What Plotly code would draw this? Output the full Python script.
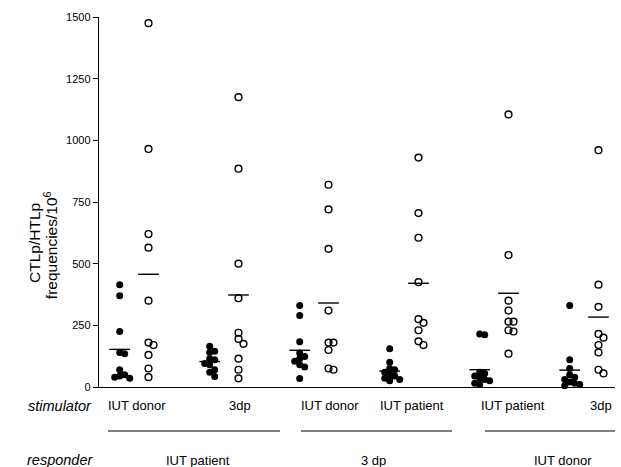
import plotly.graph_objects as go
import numpy as np

# ---------------- data ----------------
y_ticks = [0, 250, 500, 750, 1000, 1250, 1500]
stimulator_labels = ["IUT donor", "3dp", "IUT donor", "IUT patient", "IUT patient", "3dp"]
responder_labels = ["IUT patient", "3 dp", "IUT donor"]

ctlp_g1 = [415, 370, 225, 140, 135, 70, 50, 45, 40, 35]
htlp_g1 = [1475, 965, 620, 565, 350, 180, 170, 130, 75, 40]
ctlp_g2 = [165, 145, 140, 115, 110, 95, 90, 70, 60, 43]
htlp_g2 = [1175, 885, 500, 360, 220, 195, 175, 115, 70, 35]
ctlp_g3 = [330, 290, 183, 138, 124, 115, 104, 90, 81, 34]
htlp_g3 = [820, 720, 560, 310, 180, 180, 150, 75, 70]
ctlp_g4 = [155, 100, 75, 70, 60, 50, 45, 35, 30, 25]
htlp_g4 = [930, 705, 605, 425, 275, 260, 230, 185, 170]
ctlp_g5 = [215, 212, 60, 55, 45, 35, 30, 25, 15, 10]
htlp_g5 = [1105, 535, 350, 310, 265, 265, 230, 225, 135]
ctlp_g6 = [330, 110, 75, 50, 40, 30, 20, 15, 10, 5]
htlp_g6 = [960, 415, 325, 215, 200, 170, 140, 70, 55]

filled_groups = [ctlp_g1, ctlp_g2, ctlp_g3, ctlp_g4, ctlp_g5, ctlp_g6]
open_groups = [htlp_g1, htlp_g2, htlp_g3, htlp_g4, htlp_g5, htlp_g6]

# ---------------- layout constants ----------------
W, H = 621, 467
ML, MR, MT, MB = 99, 6, 17, 80
PW, PH = W - ML - MR, H - MT - MB
X0, X1 = -0.39, -0.39 + PW / 90.0
YMAX = 1500
px_per_x = PW / (X1 - X0)
px_per_y = PH / YMAX
PAIR_OFF = 0.16
FONT = "Liberation Sans, Arial, sans-serif"


def px_x(px):
    return X0 + (px - ML) / px_per_x


def paper_y(py):
    return (H - MB - py) / PH


def swarm(vals, min_d=5.0, step=5.0):
    placed, res = [], [0.0] * len(vals)
    order = sorted(range(len(vals)), key=lambda i: -vals[i])
    for i in order:
        y = vals[i] * px_per_y
        xo = 0.0
        for k in [0, 1, -1, 2, -2, 3, -3, 4, -4]:
            xo = k * step
            if all((xo - a) ** 2 + (y - b) ** 2 >= min_d ** 2 for a, b in placed):
                break
        placed.append((xo, y))
        res[i] = xo / px_per_x
    return res


fig = go.Figure()

for gi, (fv, ov) in enumerate(zip(filled_groups, open_groups)):
    xf = gi - PAIR_OFF
    xo = gi + PAIR_OFF
    jf = swarm(fv)
    jo = swarm(ov)
    fig.add_trace(go.Scatter(
        x=[xf + j for j in jf], y=fv, mode="markers",
        marker=dict(symbol="circle", size=7, color="#000"),
        cliponaxis=False, showlegend=False, hoverinfo="y"))
    fig.add_trace(go.Scatter(
        x=[xo + j for j in jo], y=ov, mode="markers",
        marker=dict(symbol="circle-open", size=6.8, color="#000", line=dict(width=1.4)),
        cliponaxis=False, showlegend=False, hoverinfo="y"))
    for xc, vals in ((xf, fv), (xo, ov)):
        m = float(np.mean(vals))
        fig.add_trace(go.Scatter(
            x=[xc - 0.115, xc + 0.115], y=[m, m], mode="lines",
            line=dict(color="#000", width=1.4),
            cliponaxis=False, showlegend=False, hoverinfo="skip"))

annotations = []
# y-axis title (two rotated lines); rotated text starts near its anchor point
annotations.append(dict(text="CTLp/HTLp", textangle=-90, xref="paper", yref="y",
                        x=(35 - ML) / PW, y=584, xanchor="center", yanchor="middle",
                        showarrow=False, font=dict(family=FONT, size=15.5, color="#000")))
annotations.append(dict(text="frequencies/10<sup>6</sup>", textangle=-90, xref="paper", yref="y",
                        x=(51 - ML) / PW, y=575, xanchor="center", yanchor="middle",
                        showarrow=False, font=dict(family=FONT, size=15.5, color="#000")))

# stimulator row
stim_px = [137, 240, 330, 412, 513, 601]
for lab, px in zip(stimulator_labels, stim_px):
    annotations.append(dict(text=lab, xref="x", yref="paper", x=px_x(px), y=paper_y(406),
                            xanchor="center", yanchor="middle", showarrow=False,
                            font=dict(family=FONT, size=13, color="#000")))
annotations.append(dict(text="<i>stimulator</i>", xref="paper", yref="paper",
                        x=(60 - ML) / PW, y=paper_y(406), xanchor="center", yanchor="middle",
                        showarrow=False, font=dict(family=FONT, size=14.5, color="#000")))

# responder row
resp_px = [198, 373, 563]
for lab, px in zip(responder_labels, resp_px):
    annotations.append(dict(text=lab, xref="x", yref="paper", x=px_x(px), y=paper_y(460),
                            xanchor="center", yanchor="middle", showarrow=False,
                            font=dict(family=FONT, size=13, color="#000")))
annotations.append(dict(text="<i>responder</i>", xref="paper", yref="paper",
                        x=(60 - ML) / PW, y=paper_y(460), xanchor="center", yanchor="middle",
                        showarrow=False, font=dict(family=FONT, size=14.5, color="#000")))

shapes = []
for a, b in [(108, 280), (301, 452), (485, 615)]:
    shapes.append(dict(type="line", xref="x", yref="paper",
                       x0=px_x(a), x1=px_x(b), y0=paper_y(431), y1=paper_y(431),
                       line=dict(color="#000", width=1.1)))

fig.update_layout(
    width=W, height=H,
    margin=dict(l=ML, r=MR, t=MT, b=MB),
    paper_bgcolor="white", plot_bgcolor="white",
    font=dict(family=FONT, color="#000"),
    xaxis=dict(range=[X0, X1], showgrid=False, zeroline=False, showticklabels=False,
               showline=True, linecolor="#000", linewidth=1.3, ticks="", fixedrange=True),
    yaxis=dict(range=[0, YMAX], tickvals=y_ticks, ticktext=[str(t) for t in y_ticks],
               showgrid=False, zeroline=False, showline=True, linecolor="#000", linewidth=1.4,
               ticks="outside", ticklen=5, tickwidth=1, tickcolor="#000",
               tickfont=dict(family=FONT, size=11, color="#000"), fixedrange=True),
    annotations=annotations,
    shapes=shapes,
)

fig.write_html("out.html", config={"displayModeBar": False},
               post_script="document.body.style.margin='0px';document.body.style.overflow='hidden';")
